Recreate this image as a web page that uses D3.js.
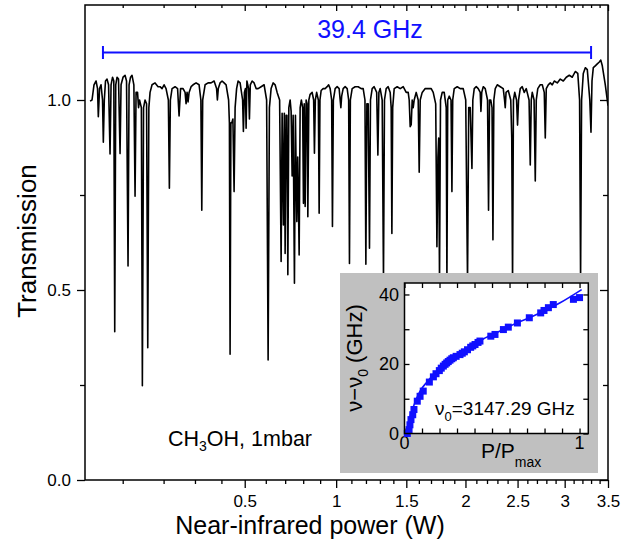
<!DOCTYPE html>
<html><head><meta charset="utf-8">
<script src="https://cdn.jsdelivr.net/npm/d3@7"></script>
<style>body{margin:0;background:#fff}svg{display:block}text{font-family:"Liberation Sans",Arial,sans-serif}</style>
</head><body><svg id="c" width="638" height="542"></svg>
<script>
// ---------- data ----------
const specP = [0.0448,0.0475,0.0503,0.0533,0.0555,0.0567,0.0586,0.0609,0.0633,0.0646,0.0662,0.0682,0.0708,0.0734,0.0760,0.0778,0.0805,0.0828,0.0845,0.0864,0.0889,0.0917,0.0947,0.0967,0.1007,0.1048,0.1079,0.1111,0.1133,0.1165,0.1198,0.1239,0.1266,0.1289,0.1323,0.1347,0.1370,0.1414,0.1438,0.1467,0.1504,0.1542,0.1572,0.1600,0.1631,0.1683,0.1763,0.1845,0.1900,0.1956,0.2014,0.2071,0.2139,0.2169,0.2199,0.2250,0.2342,0.2421,0.2468,0.2516,0.2597,0.2663,0.2696,0.2729,0.2763,0.2797,0.2865,0.2934,0.3039,0.3146,0.3211,0.3244,0.3277,0.3366,0.3478,0.3592,0.3709,0.3807,0.3838,0.3874,0.3946,0.4027,0.4109,0.4192,0.4296,0.4330,0.4359,0.4393,0.4432,0.4479,0.4530,0.4574,0.4639,0.4705,0.4793,0.4905,0.4940,0.4986,0.5031,0.5063,0.5099,0.5178,0.5215,0.5256,0.5340,0.5434,0.5529,0.5625,0.5770,0.5917,0.6041,0.6116,0.6181,0.6267,0.6369,0.6472,0.6576,0.6706,0.6785,0.6838,0.6907,0.6955,0.6998,0.7052,0.7095,0.7144,0.7198,0.7269,0.7323,0.7378,0.7434,0.7506,0.7561,0.7639,0.7690,0.7724,0.7769,0.7826,0.7894,0.7968,0.8014,0.8060,0.8112,0.8169,0.8227,0.8268,0.8327,0.8403,0.8521,0.8610,0.8657,0.8711,0.8789,0.8892,0.8940,0.8989,0.9062,0.9184,0.9307,0.9431,0.9525,0.9619,0.9714,0.9764,0.9821,0.9936,1.0064,1.0193,1.0258,1.0304,1.0356,1.0454,1.0585,1.0718,1.0817,1.0871,1.0931,1.1052,1.1255,1.1460,1.1667,1.1806,1.1931,1.1994,1.2065,1.2156,1.2249,1.2320,1.2441,1.2584,1.2765,1.2852,1.2925,1.3020,1.3166,1.3262,1.3336,1.3462,1.3611,1.3761,1.3836,1.3889,1.3950,1.4064,1.4293,1.4523,1.4756,1.4991,1.5148,1.5227,1.5306,1.5386,1.5465,1.5545,1.5625,1.5786,1.5947,1.6028,1.6110,1.6273,1.6519,1.6767,1.7017,1.7185,1.7395,1.7497,1.7582,1.7650,1.7718,1.7803,1.7949,1.8121,1.8294,1.8355,1.8425,1.8555,1.8713,1.8792,1.8862,1.8995,1.9260,1.9528,1.9798,2.0024,2.0188,2.0297,2.0434,2.0591,2.0673,2.0803,2.0988,2.1174,2.1361,2.1427,2.1502,2.1643,2.1832,2.2050,2.2146,2.2241,2.2356,2.2481,2.2567,2.2654,2.2790,2.2984,2.3276,2.3570,2.3698,2.3767,2.3847,2.4065,2.4314,2.4414,2.4494,2.4585,2.4716,2.4897,2.4998,2.5100,2.5273,2.5477,2.5682,2.5888,2.6178,2.6302,2.6406,2.6511,2.6699,2.6825,2.6930,2.7088,2.7352,2.7565,2.7778,2.7885,2.7992,2.8207,2.8423,2.8639,2.8857,2.9184,2.9514,2.9845,3.0178,3.0513,3.0850,3.1189,3.1472,3.1677,3.1791,3.1906,3.2101,3.2331,3.2562,3.2852,3.2991,3.3108,3.3260,3.3494,3.3729,3.3965,3.4142,3.4320,3.4677,3.5];
const specT = [0.997,1.00,1.04,1.05,1.03,0.956,1.03,1.04,1.00,0.889,1.00,1.05,1.055,1.04,0.858,1.04,1.06,1.05,0.39,1.04,1.06,1.055,0.859,1.04,1.06,1.065,1.05,0.563,1.04,1.06,1.065,1.04,0.747,1.02,1.02,0.98,1.00,0.98,0.248,0.98,1.00,0.99,0.348,0.98,1.02,1.04,1.045,1.035,1.035,1.03,1.04,1.03,1.00,0.768,1.00,1.03,1.035,1.03,0.958,1.03,1.03,1.02,0.99,1.02,0.995,1.02,1.035,1.04,1.045,1.04,1.00,0.71,1.00,1.04,1.045,1.045,1.05,1.03,1.00,1.03,1.045,1.05,1.045,1.04,1.00,0.94,0.331,0.94,0.94,0.95,0.759,0.98,1.03,1.05,1.045,1.00,0.917,1.02,1.03,0.926,1.05,1.03,0.95,1.04,1.05,1.045,1.03,1.03,1.035,1.04,1.00,0.316,0.98,1.03,1.045,1.04,1.02,1.00,0.575,0.965,0.671,0.965,0.596,0.96,0.96,0.54,0.98,1.00,0.97,0.80,0.96,0.518,0.96,0.68,0.85,0.75,0.592,0.98,1.00,0.98,0.728,0.99,0.72,1.00,0.99,0.693,1.00,1.015,1.02,1.00,0.86,1.00,1.02,1.00,0.702,1.00,1.025,1.03,1.03,1.035,1.04,1.03,1.00,0.667,1.00,1.03,1.035,1.03,1.00,0.98,1.01,1.03,1.035,1.03,1.00,0.57,1.00,1.03,1.035,1.035,1.03,1.03,1.00,0.568,0.99,0.99,0.61,1.00,1.03,1.035,1.02,0.855,1.02,1.03,1.00,0.53,1.00,1.03,1.035,1.02,0.98,0.649,0.98,1.03,1.035,1.03,1.035,1.02,1.02,1.00,0.93,0.935,1.00,0.98,1.00,1.02,1.00,0.81,1.00,1.02,1.03,1.03,1.03,1.02,0.99,0.614,0.85,0.90,0.52,1.00,1.02,1.02,0.98,0.52,1.00,1.01,1.00,0.759,1.00,1.03,1.035,1.03,1.03,1.00,0.52,0.98,0.98,0.82,1.00,1.03,1.035,1.03,1.02,0.97,1.02,1.035,1.03,1.00,0.71,1.00,1.00,0.98,0.632,1.00,1.03,1.04,1.035,1.03,1.00,0.98,1.02,1.025,1.00,0.90,0.52,1.00,1.02,1.00,0.934,1.00,1.03,1.035,1.02,1.03,1.00,0.829,1.00,1.02,1.00,0.787,1.00,1.03,1.04,1.04,1.02,0.90,1.03,1.04,1.045,1.04,1.05,1.045,1.055,1.05,1.06,1.065,1.06,1.075,1.07,1.00,0.53,1.00,1.07,1.085,1.08,1.00,0.915,1.05,1.085,1.09,1.095,1.10,1.105,1.09,1.04,0.985];

const yTickVals = [0, 0.5, 1.0];
const yMinorVals = [0.25, 0.75];
const xTickVals = [0.5, 1, 1.5, 2, 2.5, 3, 3.5];
const xTickLabels = ["0.5", "1", "1.5", "2", "2.5", "3", "3.5"];
const xMinorVals = [0.1,0.2,0.3,0.4,0.6,0.7,0.8,0.9,1.1,1.2,1.3,1.4,1.6,1.7,1.8,1.9,2.1,2.2,2.3,2.4,2.6,2.7,2.8,2.9,3.1,3.2,3.3,3.4];

const spanStartP = 0.064, spanEndP = 3.30; // 39.4 GHz marker (W)
const spanLabel = "39.4 GHz";

// inset: tuning curve
const ratioP = [0.016,0.026,0.031,0.037,0.047,0.054,0.073,0.089,0.107,0.142,0.165,0.18,0.199,0.21,0.222,0.232,0.241,0.25,0.26,0.27,0.279,0.295,0.317,0.33,0.342,0.36,0.378,0.39,0.403,0.42,0.431,0.493,0.517,0.565,0.593,0.645,0.713,0.778,0.797,0.822,0.85,0.965,1.0];
const detune = [0,1.1,2.5,4.0,5.4,6.9,9.3,10.7,12.2,14.8,16.3,17.2,18.1,18.8,19.4,19.9,20.3,20.7,21.1,21.5,21.8,22.2,22.7,23.1,23.5,24.1,24.8,25.2,25.6,26.2,26.6,28.0,28.5,29.9,30.6,31.8,33.3,34.7,35.4,36.2,37.1,38.6,39.1];
const fitP  = [0.012,0.02,0.03,0.05,0.089,0.13,0.165,0.241,0.355,0.45,0.546,0.64,0.736,0.889,1.012];
const fitNu = [0,2.5,4.6,7.6,12.2,14.9,17.0,20.6,24.4,27.2,29.5,31.8,33.8,37.6,41.4];
const insetYTicks = [0, 20, 40];
const insetYMinor = [10, 30];
const insetXTicks = [0, 1];
const insetXMinor = [0.1,0.2,0.3,0.4,0.5,0.6,0.7,0.8,0.9];

// ---------- drawing ----------
const svg = d3.select("#c");
const F = {l:85, r:608, t:5, b:480};
const x = d3.scaleSqrt().domain([0.0382, 3.5]).range([F.l, F.r]);
const y = d3.scaleLinear().domain([0, 1.25]).range([F.b, F.t]);

svg.append("clipPath").attr("id","clipMain").append("rect")
  .attr("x",F.l).attr("y",F.t).attr("width",F.r-F.l).attr("height",F.b-F.t);

const spec = specP.map((p,i)=>[p, specT[i]]);
svg.append("path").datum(spec)
  .attr("clip-path","url(#clipMain)")
  .attr("fill","none").attr("stroke","#000").attr("stroke-width",1.6).attr("stroke-linejoin","round")
  .attr("d", d3.line().x(d=>x(d[0])).y(d=>y(d[1])));

// axes (main)
function styleAxis(g){ g.select(".domain").remove(); g.selectAll("line").attr("stroke","#000").attr("stroke-width",1.3);
  g.selectAll("text").attr("fill","#000").style("font-family",'"Liberation Sans",Arial,sans-serif'); }
svg.append("g").attr("transform",`translate(0,${F.b})`)
  .call(d3.axisBottom(x).tickValues(xTickVals).tickFormat((d,i)=>xTickLabels[i]).tickSize(8).tickPadding(7))
  .call(styleAxis).selectAll("text").style("font-size","17px");
svg.append("g").attr("transform",`translate(0,${F.b})`)
  .call(d3.axisBottom(x).tickValues(xMinorVals).tickFormat("").tickSize(4)).call(styleAxis);
svg.append("g").attr("transform",`translate(0,${F.t})`)
  .call(d3.axisBottom(x).tickValues(xTickVals).tickFormat("").tickSize(6)).call(styleAxis);
svg.append("g").attr("transform",`translate(0,${F.t})`)
  .call(d3.axisBottom(x).tickValues(xMinorVals).tickFormat("").tickSize(3)).call(styleAxis);

svg.append("g").attr("transform",`translate(${F.l},0)`)
  .call(d3.axisLeft(y).tickValues(yTickVals).tickFormat(d3.format(".1f")).tickSize(8).tickPadding(6))
  .call(styleAxis).selectAll("text").style("font-size","17px");
svg.append("g").attr("transform",`translate(${F.l},0)`)
  .call(d3.axisLeft(y).tickValues(yMinorVals).tickFormat("").tickSize(5)).call(styleAxis);
svg.append("g").attr("transform",`translate(${F.r},0)`)
  .call(d3.axisLeft(y).tickValues(yTickVals).tickFormat("").tickSize(8)).call(styleAxis);
svg.append("g").attr("transform",`translate(${F.r},0)`)
  .call(d3.axisLeft(y).tickValues(yMinorVals).tickFormat("").tickSize(5)).call(styleAxis);

svg.append("rect").attr("x",F.l).attr("y",F.t).attr("width",F.r-F.l).attr("height",F.b-F.t)
  .attr("fill","none").attr("stroke","#000").attr("stroke-width",1.5);

// titles
svg.append("text").attr("x",310).attr("y",534).attr("text-anchor","middle")
  .style("font-size","25px").text("Near-infrared power (W)");
svg.append("text").attr("transform","translate(36,241) rotate(-90)").attr("text-anchor","middle")
  .style("font-size","26px").text("Transmission");

// 39.4 GHz marker
const blue = "#1010ff";
const sy = 52.5;
svg.append("line").attr("x1",x(spanStartP)).attr("x2",x(spanEndP)).attr("y1",sy).attr("y2",sy)
  .attr("stroke",blue).attr("stroke-width",2);
[spanStartP, spanEndP].forEach(p=>svg.append("line").attr("x1",x(p)).attr("x2",x(p)).attr("y1",sy-6.5).attr("y2",sy+6.5)
  .attr("stroke",blue).attr("stroke-width",2));
svg.append("text").attr("x",370).attr("y",38).attr("text-anchor","middle").attr("fill",blue)
  .style("font-size","25px").text(spanLabel);

// sample label
const ch = svg.append("text").attr("x",168).attr("y",446).style("font-size","21.5px");
ch.append("tspan").text("CH");
ch.append("tspan").attr("dy",5).style("font-size","14px").text("3");
ch.append("tspan").attr("dy",-5).text("OH, 1mbar");

// ---------- inset ----------
const I = {l:404.5, r:588.3, t:283, b:433.5};
svg.append("rect").attr("x",340).attr("y",273).attr("width",258).attr("height",200).attr("fill","#c0c0c0");
svg.append("rect").attr("x",I.l).attr("y",I.t).attr("width",I.r-I.l).attr("height",I.b-I.t).attr("fill","#fff");
const ix = d3.scaleLinear().domain([0,1.05]).range([I.l,I.r]);
const iy = d3.scaleLinear().domain([0,43.3]).range([I.b,I.t]);

svg.append("g").attr("transform",`translate(0,${I.b})`)
  .call(d3.axisTop(ix).tickValues(insetXTicks.concat(insetXMinor)).tickFormat("").tickSize(5)).call(styleAxis);
svg.append("g").attr("transform",`translate(0,${I.t})`)
  .call(d3.axisBottom(ix).tickValues(insetXTicks.concat(insetXMinor)).tickFormat("").tickSize(5)).call(styleAxis);
svg.append("g").attr("transform",`translate(${I.l},0)`)
  .call(d3.axisRight(iy).tickValues(insetYTicks.concat(insetYMinor)).tickFormat("").tickSize(5)).call(styleAxis);
svg.append("g").attr("transform",`translate(${I.r},0)`)
  .call(d3.axisLeft(iy).tickValues(insetYTicks.concat(insetYMinor)).tickFormat("").tickSize(5)).call(styleAxis);

svg.selectAll(".ixl").data(insetXTicks).enter().append("text")
  .attr("x",d=>ix(d)).attr("y",449).attr("text-anchor","middle").style("font-size","18px").text(d=>d);
svg.selectAll(".iyl").data(insetYTicks).enter().append("text")
  .attr("x",399).attr("y",d=>iy(d)).attr("dy","0.35em").attr("text-anchor","end").style("font-size","18px").text(d=>d);

// fit + points
const fit = fitP.map((p,i)=>[p, fitNu[i]]);
svg.append("path").datum(fit).attr("fill","none").attr("stroke",blue).attr("stroke-width",1.6)
  .attr("d", d3.line().curve(d3.curveMonotoneX).x(d=>ix(d[0])).y(d=>iy(d[1])));
svg.selectAll(".pt").data(ratioP.map((p,i)=>[p,detune[i]])).enter().append("rect")
  .attr("x",d=>ix(d[0])-3.5).attr("y",d=>iy(d[1])-3.5).attr("width",7).attr("height",7).attr("fill",blue);

svg.append("rect").attr("x",I.l).attr("y",I.t).attr("width",I.r-I.l).attr("height",I.b-I.t)
  .attr("fill","none").attr("stroke","#000").attr("stroke-width",1.5);

// inset labels
const px = svg.append("text").attr("x",481).attr("y",458).style("font-size","21px");
px.append("tspan").text("P/P");
px.append("tspan").attr("dy",9).style("font-size","14px").text("max");
const nl = svg.append("text").attr("transform","translate(362,358) rotate(-90)").attr("text-anchor","middle").style("font-size","22px");
nl.append("tspan").text("ν−ν");
nl.append("tspan").attr("dy",6).style("font-size","14px").text("0");
nl.append("tspan").attr("dy",-6).text(" (GHz)");
const nu0 = svg.append("text").attr("x",435).attr("y",414.5).style("font-size","19px");
nu0.append("tspan").text("ν");
nu0.append("tspan").attr("dy",6).style("font-size","13px").text("0");
nu0.append("tspan").attr("dy",-6).text("=3147.29 GHz");
</script></body></html>
